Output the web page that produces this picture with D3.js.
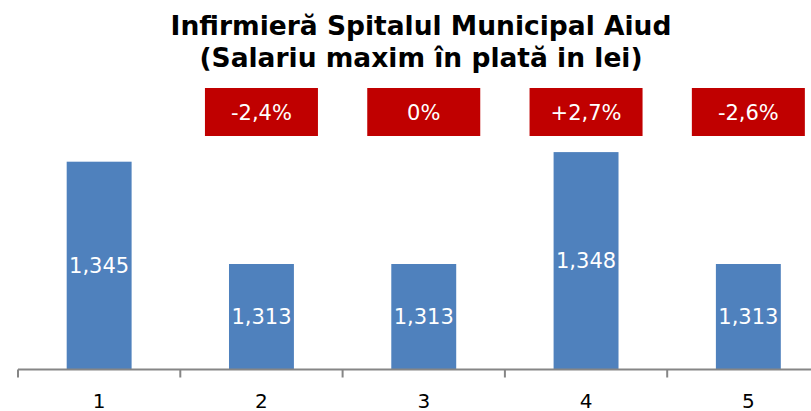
<!DOCTYPE html>
<html>
<head>
<meta charset="utf-8">
<script src="https://cdn.jsdelivr.net/npm/d3@7"></script>
<style>
  body { margin: 0; background: #fff; }
  svg { display: block; font-family: "DejaVu Sans", Verdana, sans-serif; }
</style>
</head>
<body>
<div id="chart"></div>
<script>
// chart data
var categories = ['1', '2', '3', '4', '5'];
var salaries = [1345, 1313, 1313, 1348, 1313];
var changes = [null, '-2,4%', '0%', '+2,7%', '-2,6%'];
var titleLines = ['Infirmieră Spitalul Municipal Aiud', '(Salariu maxim în plată in lei)'];

var width = 811, height = 411;
var plot = { left: 18, bottom: 369.5, band: 162.3 };

var svg = d3.select('#chart').append('svg')
    .attr('width', width)
    .attr('height', height);

//x scale - the last band runs past the right edge like in the original
var x = d3.scaleBand()
    .domain(categories)
    .range([plot.left, plot.left + plot.band * categories.length])
    .paddingInner(0)
    .paddingOuter(0);

//value axis is cut at 1280 (not drawn)
var y = d3.scaleLinear()
    .domain([1280, 1380])
    .range([plot.bottom, plot.bottom - 100 * 3.197]);

var barW = x.bandwidth() * 0.4;

//title
svg.append('g').selectAll('text')
    .data(titleLines)
    .enter()
    .append('text')
    .attr('x', 421)
    .attr('y', function (d, i) { return 35 + i * 32; })
    .attr('text-anchor', 'middle')
    .attr('font-size', 26.5)
    .attr('font-weight', 'bold')
    .attr('fill', '#000')
    .text(function (d) { return d; });

//bars
var bars = svg.append('g');
bars.selectAll('rect')
    .data(salaries)
    .enter()
    .append('rect')
    .attr('x', function (d, i) { return x(categories[i]) + (x.bandwidth() - barW) / 2; })
    .attr('y', function (d) { return y(d); })
    .attr('width', barW)
    .attr('height', function (d) { return y(1280) - y(d); })
    .attr('fill', '#4F81BD');

//value labels in the middle of each bar
bars.selectAll('text')
    .data(salaries)
    .enter()
    .append('text')
    .attr('x', function (d, i) { return x(categories[i]) + x.bandwidth() / 2; })
    .attr('y', function (d) { return (y(d) + y(1280)) / 2; })
    .attr('dy', '0.36em')
    .attr('text-anchor', 'middle')
    .attr('font-size', 21)
    .attr('fill', '#fff')
    .text(d3.format(','));

//x axis
var axis = svg.append('g')
    .attr('transform', 'translate(0,' + plot.bottom + ')');
axis.append('line')
    .attr('x1', plot.left)
    .attr('x2', width)
    .attr('stroke', '#868686')
    .attr('stroke-width', 2);
axis.selectAll('line.tick')
    .data(categories)
    .enter()
    .append('line')
    .attr('class', 'tick')
    .attr('x1', function (d) { return x(d); })
    .attr('x2', function (d) { return x(d); })
    .attr('y1', 0)
    .attr('y2', 8)
    .attr('stroke', '#868686')
    .attr('stroke-width', 2);
axis.selectAll('text')
    .data(categories)
    .enter()
    .append('text')
    .attr('x', function (d) { return x(d) + x.bandwidth() / 2; })
    .attr('y', 38)
    .attr('text-anchor', 'middle')
    .attr('font-size', 20)
    .attr('fill', '#000')
    .text(function (d) { return d; });

//red change boxes
var boxW = 113, boxH = 48;
var boxes = svg.append('g').selectAll('g')
    .data(changes.map(function (c, i) { return { c: c, cat: categories[i] }; })
        .filter(function (d) { return d.c !== null; }))
    .enter()
    .append('g')
    .attr('transform', function (d) {
        return 'translate(' + (x(d.cat) + x.bandwidth() / 2) + ',' + 88 + ')';
    });
boxes.append('rect')
    .attr('x', -boxW / 2)
    .attr('width', boxW)
    .attr('height', boxH)
    .attr('fill', '#C00000');
boxes.append('text')
    .attr('y', boxH / 2)
    .attr('dy', '0.36em')
    .attr('text-anchor', 'middle')
    .attr('font-size', 21)
    .attr('fill', '#fff')
    .text(function (d) { return d.c; });
</script>
</body>
</html>
